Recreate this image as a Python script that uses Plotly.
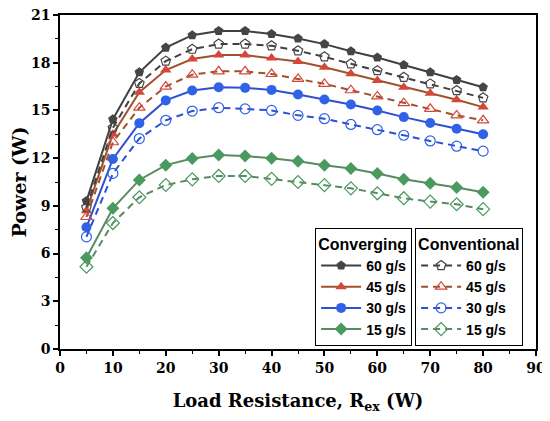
import plotly.graph_objects as go

# -------------------------------
# Datos
# -------------------------------
resistencia = [5, 10, 15, 20, 25, 30, 35, 40, 45, 50, 55, 60, 65, 70, 75, 80]

# Converging
conv_60 = [9.3, 14.45, 17.4, 18.95, 19.73, 20.0, 20.0, 19.81, 19.52, 19.17, 18.72, 18.33, 17.86, 17.4, 16.92, 16.46]
conv_45 = [8.7, 13.5, 16.15, 17.54, 18.23, 18.48, 18.48, 18.29, 18.08, 17.71, 17.3, 16.88, 16.46, 16.08, 15.67, 15.21]
conv_30 = [7.65, 11.95, 14.2, 15.63, 16.25, 16.46, 16.42, 16.29, 16.0, 15.69, 15.37, 15.0, 14.58, 14.21, 13.85, 13.5]
conv_15 = [5.73, 8.85, 10.63, 11.56, 11.98, 12.19, 12.13, 12.0, 11.8, 11.55, 11.35, 11.04, 10.67, 10.42, 10.15, 9.85]

# Conventional
conven_60 = [8.9, 13.9, 16.7, 18.1, 18.85, 19.17, 19.17, 19.06, 18.75, 18.37, 17.93, 17.5, 17.08, 16.67, 16.25, 15.79]
conven_45 = [8.3, 13.0, 15.17, 16.5, 17.25, 17.46, 17.46, 17.29, 16.98, 16.67, 16.27, 15.88, 15.46, 15.1, 14.69, 14.38]
conven_30 = [7.05, 11.04, 13.23, 14.38, 14.96, 15.17, 15.1, 15.0, 14.69, 14.48, 14.12, 13.79, 13.44, 13.08, 12.75, 12.44]
conven_15 = [5.17, 7.92, 9.54, 10.31, 10.67, 10.88, 10.88, 10.7, 10.5, 10.3, 10.1, 9.79, 9.48, 9.27, 9.1, 8.79]

etiquetas = ["60 g/s", "45 g/s", "30 g/s", "15 g/s"]

# -------------------------------
# Estilos por caudal
# -------------------------------
estilos = [
    dict(linea="#404040", marca="#454545", simbolo="pentagon"),
    dict(linea="#a0522d", marca="#d4483a", simbolo="triangle-up"),
    dict(linea="#2f4fd6", marca="#2f62e6", simbolo="circle"),
    dict(linea="#5a8a62", marca="#4a9a60", simbolo="diamond"),
]

fig = go.Figure()

# --- Converging: línea sólida + marcador lleno ---
for serie, nombre, est in zip([conv_60, conv_45, conv_30, conv_15], etiquetas, estilos):
    fig.add_trace(go.Scatter(
        x=resistencia, y=serie, name=nombre, mode="lines+markers",
        line=dict(color=est["linea"], width=2),
        marker=dict(symbol=est["simbolo"], size=10, color=est["marca"]),
        legend="legend",
    ))

# --- Conventional: línea discontinua + marcador hueco ---
for serie, nombre, est in zip([conven_60, conven_45, conven_30, conven_15], etiquetas, estilos):
    fig.add_trace(go.Scatter(
        x=resistencia, y=serie, name=nombre, mode="lines+markers",
        line=dict(color=est["linea"], width=2, dash="7px,5px"),
        marker=dict(symbol=est["simbolo"] + "-open", size=10, color=est["marca"],
                    line=dict(width=1.2)),
        legend="legend2",
    ))

fuente_ejes = dict(family="DejaVu Serif", size=14, color="black", weight="bold")
fuente_tit_x = dict(family="DejaVu Serif", size=18, color="black", weight="bold")
fuente_tit_y = dict(family="DejaVu Serif", size=19, color="black", weight="bold")
fuente_leyenda = dict(family="Liberation Sans", size=14, color="black", weight="bold")
fuente_tit_ley = dict(family="Liberation Sans", size=16, color="black", weight="bold")

fig.update_xaxes(
    range=[0, 90], dtick=10, tick0=0, automargin=False, ticklabeloverflow="allow",
    showline=True, linecolor="black", linewidth=1.5, mirror=True,
    ticks="outside", ticklen=5, tickwidth=1.5, tickcolor="black",
    minor=dict(dtick=5, ticks="outside", ticklen=3, tickwidth=1.2, tickcolor="black"),
    showgrid=False, zeroline=False,
    tickfont=fuente_ejes,
    title=dict(text="Load Resistance, R<sub>ex</sub> (W)", font=fuente_tit_x, standoff=20),
)
fig.update_yaxes(
    range=[0, 21], dtick=3, tick0=0, automargin=False, ticklabeloverflow="allow",
    showline=True, linecolor="black", linewidth=1.5, mirror=True,
    ticks="outside", ticklen=5, tickwidth=1.5, tickcolor="black",
    minor=dict(dtick=1.5, ticks="outside", ticklen=3, tickwidth=1.2, tickcolor="black"),
    showgrid=False, zeroline=False,
    tickfont=fuente_ejes,
    title=dict(text="Power (W)", font=fuente_tit_y, standoff=10),
)

# la página agrega ~8 px de margen al body: se compensa en los márgenes
fig.update_layout(
    width=550, height=421,
    margin=dict(l=52, r=22, t=7, b=80),
    plot_bgcolor="white", paper_bgcolor="white",
    legend=dict(
        title=dict(text="Converging", font=fuente_tit_ley),
        font=fuente_leyenda, bgcolor="white",
        bordercolor="black", borderwidth=1,
        x=0.536, y=0.362, xanchor="left", yanchor="top",
        tracegroupgap=0, itemwidth=40,
    ),
    legend2=dict(
        title=dict(text="Conventional", font=fuente_tit_ley),
        font=fuente_leyenda, bgcolor="white",
        bordercolor="black", borderwidth=1,
        x=0.746, y=0.362, xanchor="left", yanchor="top",
        tracegroupgap=0, itemwidth=40,
    ),
)

fig.write_html("out.html")
